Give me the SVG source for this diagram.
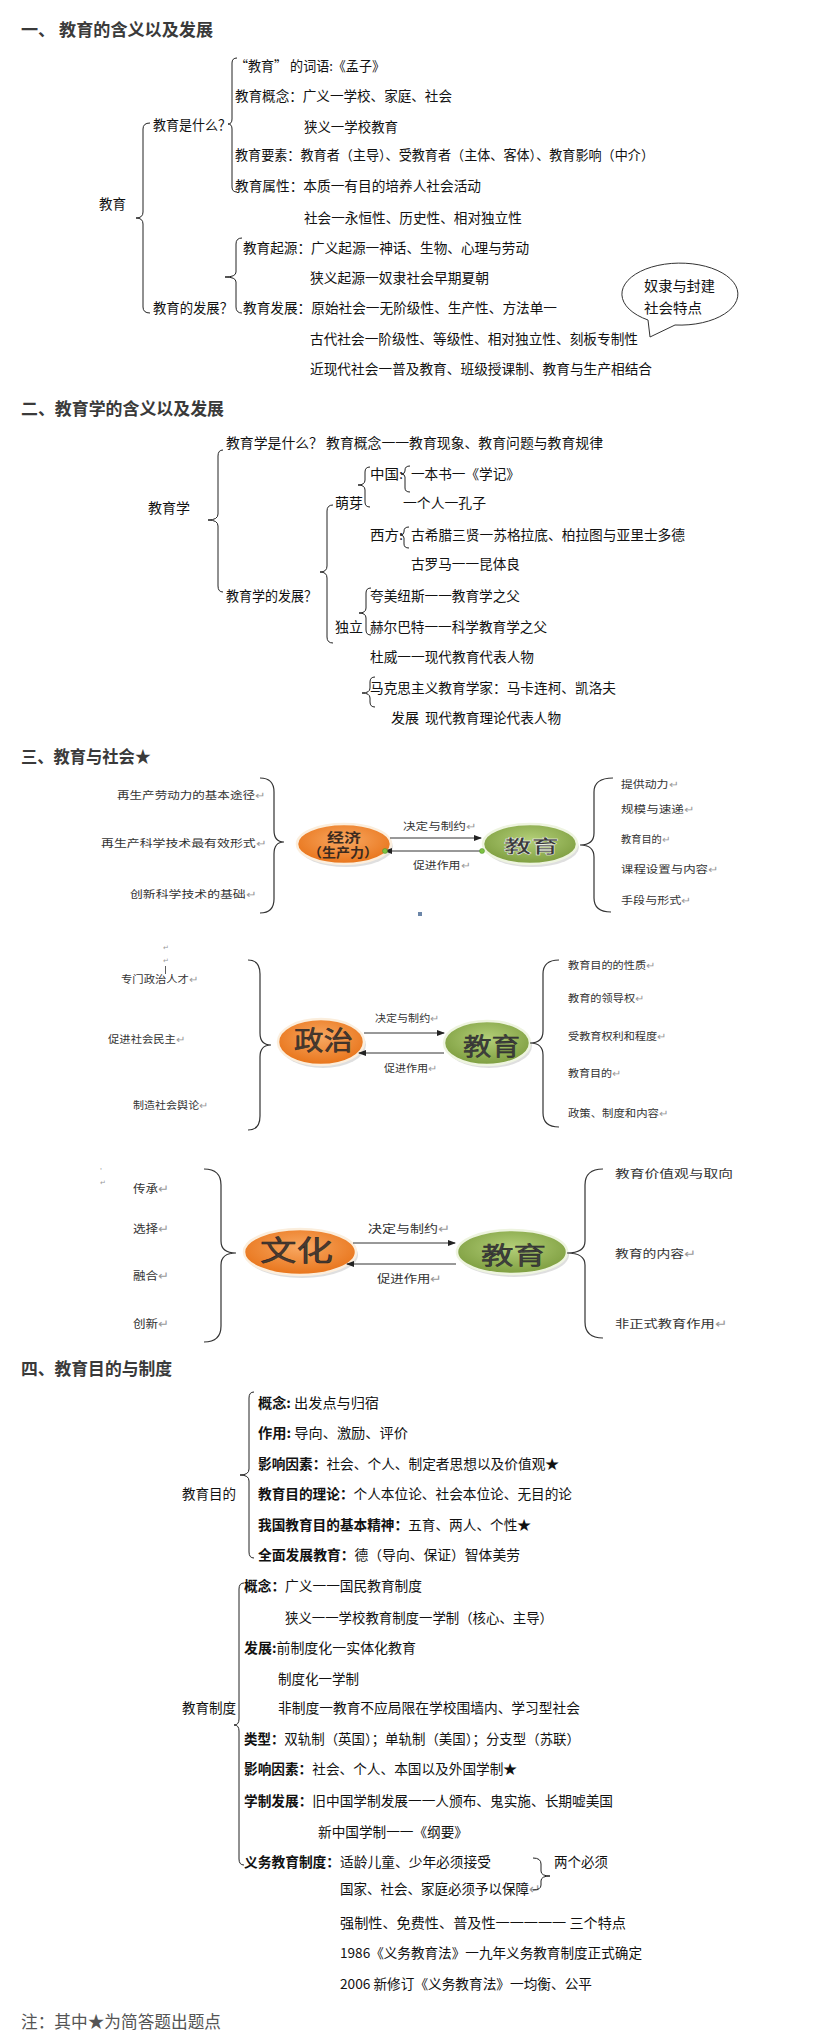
<svg xmlns="http://www.w3.org/2000/svg" width="815" height="2044" viewBox="0 0 815 2044">
<style>
text{font-family:"Noto Sans CJK SC","Noto Sans",sans-serif;dominant-baseline:central;fill:#111;font-size:13.5px}
.h{font-size:17px;font-weight:bold;fill:#3a3a3a}
.s{font-size:10px;fill:#333}
.m{font-size:11.5px;fill:#333}
.b{font-weight:bold}
.r{fill:#999}
.br{fill:none;stroke:#222;stroke-width:1}
.bb{fill:none;stroke:#333;stroke-width:1.2}
.ar{stroke:#333;stroke-width:1;fill:none}
.et{fill:#3a3a3a;stroke:#fff;stroke-width:0.4;font-weight:bold}
.bub{fill:#fff;stroke:#333;stroke-width:1}
</style>
<defs>
<marker id="ah" markerWidth="8" markerHeight="6" refX="7" refY="3" orient="auto" markerUnits="userSpaceOnUse"><path d="M0,0 L8,3 L0,6 Z" fill="#222"/></marker>
<radialGradient id="gO" cx="50%" cy="40%" r="60%"><stop offset="0" stop-color="#F8A862"/><stop offset="1" stop-color="#E8741A"/></radialGradient>
<radialGradient id="gG" cx="50%" cy="40%" r="60%"><stop offset="0" stop-color="#B3CF78"/><stop offset="1" stop-color="#7E9E40"/></radialGradient>
</defs>
<rect width="815" height="2044" fill="#fff"/>

<!-- Section 1 -->
<g id="sec1">
<text class="h" x="21" y="28" textLength="192" lengthAdjust="spacingAndGlyphs">一、 教育的含义以及发展</text>
<g id="n-jiaoyu"><text x="99" y="203" textLength="27" lengthAdjust="spacingAndGlyphs">教育</text></g>
<g id="n-shishenme"><text x="153" y="124" textLength="78" lengthAdjust="spacingAndGlyphs">教育是什么？</text></g>
<g id="n-ciyu"><text x="235" y="65" textLength="150" lengthAdjust="spacingAndGlyphs">“教育” 的词语:《孟子》</text></g>
<g id="n-gainian"><text x="235" y="95" textLength="217" lengthAdjust="spacingAndGlyphs">教育概念：广义一学校、家庭、社会</text>
<text x="304" y="126" textLength="94" lengthAdjust="spacingAndGlyphs">狭义一学校教育</text></g>
<g id="n-yaosu"><text x="235" y="154" textLength="419" lengthAdjust="spacingAndGlyphs">教育要素：教育者（主导）、受教育者（主体、客体）、教育影响（中介）</text></g>
<g id="n-shuxing"><text x="235" y="185" textLength="246" lengthAdjust="spacingAndGlyphs">教育属性：本质一有目的培养人社会活动</text>
<text x="304" y="217" textLength="218" lengthAdjust="spacingAndGlyphs">社会一永恒性、历史性、相对独立性</text></g>
<g id="n-fazhanq"><text x="153" y="307" textLength="80" lengthAdjust="spacingAndGlyphs">教育的发展？</text></g>
<g id="n-qiyuan"><text x="243" y="247" textLength="286" lengthAdjust="spacingAndGlyphs">教育起源：广义起源一神话、生物、心理与劳动</text>
<text x="310" y="277" textLength="179" lengthAdjust="spacingAndGlyphs">狭义起源一奴隶社会早期夏朝</text></g>
<g id="n-fazhan"><text x="243" y="307" textLength="314" lengthAdjust="spacingAndGlyphs">教育发展：原始社会一无阶级性、生产性、方法单一</text>
<text x="310" y="338" textLength="328" lengthAdjust="spacingAndGlyphs">古代社会一阶级性、等级性、相对独立性、刻板专制性</text>
<text x="310" y="368" textLength="342" lengthAdjust="spacingAndGlyphs">近现代社会一普及教育、班级授课制、教育与生产相结合</text></g>
<g id="n-bubble">
<path class="bub" d="M675,325 L650,337 L648,320 A58,31 0 1 1 675,325 Z"/>
<text x="644" y="285" textLength="71" lengthAdjust="spacingAndGlyphs">奴隶与封建</text>
<text x="644" y="307" textLength="58" lengthAdjust="spacingAndGlyphs">社会特点</text>
</g>
</g>

<!-- Section 2 -->
<g id="sec2">
<text class="h" x="21" y="407" textLength="203" lengthAdjust="spacingAndGlyphs">二、教育学的含义以及发展</text>
<g id="n-jyx"><text x="148" y="507" textLength="42" lengthAdjust="spacingAndGlyphs">教育学</text></g>
<g id="n-jyxssm"><text x="226" y="442" textLength="377" lengthAdjust="spacingAndGlyphs">教育学是什么？ 教育概念一一教育现象、教育问题与教育规律</text></g>
<g id="n-jyxfz"><text x="226" y="595" textLength="91" lengthAdjust="spacingAndGlyphs">教育学的发展？</text></g>
<g id="n-mengya"><text x="335" y="502" textLength="28" lengthAdjust="spacingAndGlyphs">萌芽</text></g>
<g id="n-zhongguo"><text x="370" y="473" textLength="33" lengthAdjust="spacingAndGlyphs">中国:</text>
<text x="411" y="473" textLength="109" lengthAdjust="spacingAndGlyphs">一本书一《学记》</text>
<text x="403" y="502" textLength="83" lengthAdjust="spacingAndGlyphs">一个人一孔子</text></g>
<g id="n-xifang"><text x="370" y="534" textLength="33" lengthAdjust="spacingAndGlyphs">西方:</text>
<text x="411" y="534" textLength="274" lengthAdjust="spacingAndGlyphs">古希腊三贤一苏格拉底、柏拉图与亚里士多德</text>
<text x="411" y="563" textLength="109" lengthAdjust="spacingAndGlyphs">古罗马一一昆体良</text></g>
<g id="n-duli"><text x="335" y="626" textLength="28" lengthAdjust="spacingAndGlyphs">独立</text>
<text x="370" y="595" textLength="150" lengthAdjust="spacingAndGlyphs">夸美纽斯一一教育学之父</text>
<text x="370" y="626" textLength="177" lengthAdjust="spacingAndGlyphs">赫尔巴特一一科学教育学之父</text></g>
<g id="n-duwei"><text x="370" y="656" textLength="164" lengthAdjust="spacingAndGlyphs">杜威一一现代教育代表人物</text></g>
<g id="n-makesi"><text x="370" y="687" textLength="246" lengthAdjust="spacingAndGlyphs">马克思主义教育学家：马卡连柯、凯洛夫</text>
<text x="391" y="717" textLength="28" lengthAdjust="spacingAndGlyphs">发展</text>
<text x="425" y="717" textLength="136" lengthAdjust="spacingAndGlyphs">现代教育理论代表人物</text></g>
</g>

<!-- Section 3 -->
<g id="sec3">
<text class="h" x="21" y="755" textLength="130" lengthAdjust="spacingAndGlyphs">三、教育与社会★</text>

<g id="n-jingji">
<ellipse cx="346" cy="847" rx="47" ry="20" fill="#c9c9c9" opacity="0.6"/>
<ellipse cx="344" cy="844" rx="47" ry="20" fill="url(#gO)" stroke="#fbeedd" stroke-width="2.5"/>
<text class="b" x="327" y="836" textLength="34" lengthAdjust="spacingAndGlyphs" style="font-size:13px;fill:#3b2a1e">经济</text>
<text class="b" x="308" y="851" textLength="70" lengthAdjust="spacingAndGlyphs" style="font-size:13px;fill:#3b2a1e">（生产力）</text>
</g>
<g id="n-jiaoyu1">
<ellipse cx="532" cy="847" rx="47" ry="20" fill="#c9c9c9" opacity="0.6"/>
<ellipse cx="530" cy="844" rx="47" ry="20" fill="url(#gG)" stroke="#eef4e0" stroke-width="2.5"/>
<text class="et" x="504" y="845" textLength="55" lengthAdjust="spacingAndGlyphs" style="font-size:18px">教育</text>
</g>
<g id="n-econ-left" class="s">
<text class="s" x="117" y="794" textLength="148" lengthAdjust="spacingAndGlyphs">再生产劳动力的基本途径<tspan class="r">↵</tspan></text>
<text class="s" x="101" y="842" textLength="165" lengthAdjust="spacingAndGlyphs">再生产科学技术最有效形式<tspan class="r">↵</tspan></text>
<text class="s" x="130" y="893" textLength="126" lengthAdjust="spacingAndGlyphs">创新科学技术的基础<tspan class="r">↵</tspan></text>
</g>
<g id="n-econ-right">
<text class="s" x="621" y="783" textLength="57" lengthAdjust="spacingAndGlyphs">提供动力<tspan class="r">↵</tspan></text>
<text class="s" x="621" y="808" textLength="73" lengthAdjust="spacingAndGlyphs">规模与速递<tspan class="r">↵</tspan></text>
<text class="s" x="621" y="838" textLength="49" lengthAdjust="spacingAndGlyphs">教育目的<tspan class="r">↵</tspan></text>
<text class="s" x="621" y="868" textLength="97" lengthAdjust="spacingAndGlyphs">课程设置与内容<tspan class="r">↵</tspan></text>
<text class="s" x="621" y="899" textLength="70" lengthAdjust="spacingAndGlyphs">手段与形式<tspan class="r">↵</tspan></text>
</g>
<g id="n-econ-labels">
<text class="s" x="403" y="825" textLength="73" lengthAdjust="spacingAndGlyphs">决定与制约<tspan class="r">↵</tspan></text>
<text class="s" x="413" y="864" textLength="57" lengthAdjust="spacingAndGlyphs">促进作用<tspan class="r">↵</tspan></text>
</g>
<rect x="418" y="912" width="4" height="4" fill="#6b86a8"/>

<g id="n-zhengzhi">
<ellipse cx="323" cy="1045" rx="43" ry="23" fill="#c9c9c9" opacity="0.6"/>
<ellipse cx="321" cy="1042" rx="43" ry="23" fill="url(#gO)" stroke="#fbeedd" stroke-width="2.5"/>
<text x="294" y="1038" textLength="59" lengthAdjust="spacingAndGlyphs" style="font-size:26px;fill:#4a3a30;stroke:#222;stroke-width:0.5">政治</text>
</g>
<g id="n-jiaoyu2">
<ellipse cx="489" cy="1046" rx="43" ry="22" fill="#c9c9c9" opacity="0.6"/>
<ellipse cx="487" cy="1043" rx="43" ry="22" fill="url(#gG)" stroke="#eef4e0" stroke-width="2.5"/>
<text x="463" y="1044" textLength="57" lengthAdjust="spacingAndGlyphs" style="font-size:24px;fill:#3f3f3f;stroke:#222;stroke-width:0.4">教育</text>
</g>
<g id="n-pol-left">
<text class="r" x="163" y="947" style="font-size:7px">↵</text>
<text class="r" x="163" y="960" style="font-size:7px">↵</text>
<line x1="165.5" y1="966" x2="165.5" y2="974" stroke="#333" stroke-width="0.8"/>
<text class="s" x="121" y="978" textLength="77" lengthAdjust="spacingAndGlyphs">专门政治人才<tspan class="r">↵</tspan></text>
<text class="s" x="108" y="1038" textLength="77" lengthAdjust="spacingAndGlyphs">促进社会民主<tspan class="r">↵</tspan></text>
<text class="s" x="133" y="1104" textLength="75" lengthAdjust="spacingAndGlyphs">制造社会舆论<tspan class="r">↵</tspan></text>
</g>
<g id="n-pol-right">
<text class="s" x="568" y="964" textLength="87" lengthAdjust="spacingAndGlyphs">教育目的的性质<tspan class="r">↵</tspan></text>
<text class="s" x="568" y="997" textLength="76" lengthAdjust="spacingAndGlyphs">教育的领导权<tspan class="r">↵</tspan></text>
<text class="s" x="568" y="1035" textLength="98" lengthAdjust="spacingAndGlyphs">受教育权利和程度<tspan class="r">↵</tspan></text>
<text class="s" x="568" y="1072" textLength="53" lengthAdjust="spacingAndGlyphs">教育目的<tspan class="r">↵</tspan></text>
<text class="s" x="568" y="1112" textLength="100" lengthAdjust="spacingAndGlyphs">政策、制度和内容<tspan class="r">↵</tspan></text>
</g>
<g id="n-pol-labels">
<text class="s" x="375" y="1017" textLength="64" lengthAdjust="spacingAndGlyphs">决定与制约<tspan class="r">↵</tspan></text>
<text class="s" x="384" y="1067" textLength="53" lengthAdjust="spacingAndGlyphs">促进作用<tspan class="r">↵</tspan></text>
</g>

<g id="n-wenhua">
<ellipse cx="302" cy="1255" rx="56" ry="23" fill="#c9c9c9" opacity="0.6"/>
<ellipse cx="300" cy="1252" rx="56" ry="23" fill="url(#gO)" stroke="#fbeedd" stroke-width="2.5"/>
<text x="260" y="1249" textLength="73" lengthAdjust="spacingAndGlyphs" style="font-size:28px;fill:#4a3a30;stroke:#222;stroke-width:0.5">文化</text>
</g>
<g id="n-jiaoyu3">
<ellipse cx="514" cy="1255" rx="55" ry="22" fill="#c9c9c9" opacity="0.6"/>
<ellipse cx="512" cy="1252" rx="55" ry="22" fill="url(#gG)" stroke="#eef4e0" stroke-width="2.5"/>
<text x="481" y="1253" textLength="65" lengthAdjust="spacingAndGlyphs" style="font-size:24px;fill:#3f3f3f;stroke:#222;stroke-width:0.4">教育</text>
</g>
<g id="n-cul-left">
<text class="r" x="100" y="1170" style="font-size:7px">'</text>
<text class="r" x="100" y="1182" style="font-size:7px">↵</text>
<text class="m" x="133" y="1188" textLength="36" lengthAdjust="spacingAndGlyphs">传承<tspan class="r">↵</tspan></text>
<text class="m" x="133" y="1228" textLength="36" lengthAdjust="spacingAndGlyphs">选择<tspan class="r">↵</tspan></text>
<text class="m" x="133" y="1275" textLength="36" lengthAdjust="spacingAndGlyphs">融合<tspan class="r">↵</tspan></text>
<text class="m" x="133" y="1323" textLength="36" lengthAdjust="spacingAndGlyphs">创新<tspan class="r">↵</tspan></text>
</g>
<g id="n-cul-right">
<text class="m" x="615" y="1173" textLength="118" lengthAdjust="spacingAndGlyphs">教育价值观与取向</text>
<text class="m" x="615" y="1253" textLength="81" lengthAdjust="spacingAndGlyphs">教育的内容<tspan class="r">↵</tspan></text>
<text class="m" x="615" y="1323" textLength="112" lengthAdjust="spacingAndGlyphs">非正式教育作用<tspan class="r">↵</tspan></text>
</g>
<g id="n-cul-labels">
<text class="m" x="368" y="1228" textLength="82" lengthAdjust="spacingAndGlyphs">决定与制约<tspan class="r">↵</tspan></text>
<text class="m" x="377" y="1278" textLength="65" lengthAdjust="spacingAndGlyphs">促进作用<tspan class="r">↵</tspan></text>
</g>
</g>

<!-- Section 4 -->
<g id="sec4">
<text class="h" x="21" y="1367" textLength="151" lengthAdjust="spacingAndGlyphs">四、教育目的与制度</text>
<g id="n-mudi"><text x="182" y="1493" textLength="54" lengthAdjust="spacingAndGlyphs">教育目的</text></g>
<g id="n-mudi-items">
<text x="258" y="1402" textLength="121" lengthAdjust="spacingAndGlyphs"><tspan class="b">概念:</tspan> 出发点与归宿</text>
<text x="258" y="1432" textLength="150" lengthAdjust="spacingAndGlyphs"><tspan class="b">作用:</tspan> 导向、激励、评价</text>
<text x="258" y="1463" textLength="301" lengthAdjust="spacingAndGlyphs"><tspan class="b">影响因素：</tspan>社会、个人、制定者思想以及价值观★</text>
<text x="258" y="1493" textLength="314" lengthAdjust="spacingAndGlyphs"><tspan class="b">教育目的理论：</tspan>个人本位论、社会本位论、无目的论</text>
<text x="258" y="1524" textLength="273" lengthAdjust="spacingAndGlyphs"><tspan class="b">我国教育目的基本精神：</tspan>五育、两人、个性★</text>
<text x="258" y="1554" textLength="262" lengthAdjust="spacingAndGlyphs"><tspan class="b">全面发展教育：</tspan>德（导向、保证）智体美劳</text>
</g>
<g id="n-zhidu"><text x="182" y="1707" textLength="54" lengthAdjust="spacingAndGlyphs">教育制度</text></g>
<g id="n-zhidu-items">
<text x="244" y="1585" textLength="178" lengthAdjust="spacingAndGlyphs"><tspan class="b">概念：</tspan>广义一一国民教育制度</text>
<text x="285" y="1617" textLength="268" lengthAdjust="spacingAndGlyphs">狭义一一学校教育制度一学制（核心、主导）</text>
<text x="244" y="1647" textLength="172" lengthAdjust="spacingAndGlyphs"><tspan class="b">发展:</tspan>前制度化一实体化教育</text>
<text x="278" y="1678" textLength="81" lengthAdjust="spacingAndGlyphs">制度化一学制</text>
<text x="278" y="1707" textLength="302" lengthAdjust="spacingAndGlyphs">非制度一教育不应局限在学校围墙内、学习型社会</text>
<text x="244" y="1738" textLength="336" lengthAdjust="spacingAndGlyphs"><tspan class="b">类型：</tspan>双轨制（英国）；单轨制（美国）；分支型（苏联）</text>
<text x="244" y="1768" textLength="273" lengthAdjust="spacingAndGlyphs"><tspan class="b">影响因素：</tspan>社会、个人、本国以及外国学制★</text>
<text x="244" y="1800" textLength="369" lengthAdjust="spacingAndGlyphs"><tspan class="b">学制发展：</tspan>旧中国学制发展一一人颁布、鬼实施、长期嘘美国</text>
<text x="318" y="1831" textLength="150" lengthAdjust="spacingAndGlyphs">新中国学制一一《纲要》</text>
<text x="244" y="1861" textLength="247" lengthAdjust="spacingAndGlyphs"><tspan class="b">义务教育制度：</tspan>适龄儿童、少年必须接受</text>
<text x="340" y="1888" textLength="201" lengthAdjust="spacingAndGlyphs">国家、社会、家庭必须予以保障<tspan class="r">↵</tspan></text>
<text x="340" y="1922" textLength="286" lengthAdjust="spacingAndGlyphs">强制性、免费性、普及性一一一一一  三个特点</text>
<text x="340" y="1952" textLength="302" lengthAdjust="spacingAndGlyphs">1986《义务教育法》一九年义务教育制度正式确定</text>
<text x="340" y="1983" textLength="252" lengthAdjust="spacingAndGlyphs">2006 新修订《义务教育法》一均衡、公平</text>
</g>
<g id="n-liangge"><text x="554" y="1861" textLength="54" lengthAdjust="spacingAndGlyphs">两个必须</text></g>
<text x="21" y="2020" textLength="200" lengthAdjust="spacingAndGlyphs" style="font-size:17px;fill:#555">注：其中★为简答题出题点</text>
</g>

<!-- Connectors -->
<g id="connectors">
<path class="br" d="M150,123 Q143,123 143,129 L143,212 Q143,218 136,218 Q143,218 143,224 L143,307 Q143,313 150,313"/>
<path class="br" d="M237,58 Q232,58 232,63 L232,119 Q232,124 228,124 Q232,124 232,129 L232,187 Q232,192 237,192"/>
<path class="br" d="M242,238 Q236,238 236,244 L236,272 Q236,277 225,277 Q236,277 236,282 L236,307 Q236,313 242,313"/>

<path class="br" d="M223,450 Q218,450 218,456 L218,514 Q218,520 208,520 Q218,520 218,526 L218,586 Q218,592 223,592"/>
<path class="br" d="M370,467 Q365,467 365,472 L365,480 Q365,485 358,485 Q365,485 365,490 L365,502 Q365,507 370,507"/>
<path class="br" d="M410,466 Q405,466 405,470 L405,471 Q405,474 401,474 Q405,474 405,477 L405,488 Q405,492 410,492"/>
<path class="br" d="M409,527 Q404,527 404,531 L404,532 Q404,535 400,535 Q404,535 404,538 L404,544 Q404,548 409,548"/>
<path class="br" d="M333,505 Q327,505 327,511 L327,566 Q327,572 320,572 Q327,572 327,578 L327,637 Q327,643 333,643"/>
<path class="br" d="M371,588 Q366,588 366,593 L366,608 Q366,613 359,613 Q366,613 366,618 L366,630 Q366,635 371,635"/>
<path class="br" d="M375,677 Q370,677 370,682 L370,688 Q370,693 362,693 Q370,693 370,698 L370,702 Q370,707 375,707"/>

<path class="bb" d="M260,778 Q274,778 274,792 L274,830 Q274,842 284,842 Q274,842 274,854 L274,899 Q274,913 260,913"/>
<path class="bb" d="M613,778 Q594,778 594,792 L594,833 Q594,845 580,845 Q594,845 594,857 L594,898 Q594,912 611,912"/>
<line class="ar" x1="390" y1="838" x2="481" y2="838" marker-end="url(#ah)"/>
<line class="ar" x1="481" y1="851" x2="385" y2="851" marker-end="url(#ah)"/>
<circle cx="385" cy="851" r="2.5" fill="#7dc242" stroke="#4a8a2a" stroke-width="0.5"/>
<circle cx="482" cy="851" r="2.5" fill="#7dc242" stroke="#4a8a2a" stroke-width="0.5"/>

<path class="bb" d="M248,960 Q260,960 260,974 L260,1033 Q260,1045 271,1045 Q260,1045 260,1057 L260,1116 Q260,1130 248,1130"/>
<path class="bb" d="M559,960 Q543,960 543,974 L543,1031 Q543,1043 530,1043 Q543,1043 543,1055 L543,1113 Q543,1127 559,1127"/>
<line class="ar" x1="364" y1="1033" x2="444" y2="1033" marker-end="url(#ah)"/>
<line class="ar" x1="444" y1="1053" x2="359" y2="1053" marker-end="url(#ah)"/>

<path class="bb" d="M204,1169 Q221,1169 221,1185 L221,1241 Q221,1253 236,1253 Q221,1253 221,1265 L221,1326 Q221,1342 204,1342"/>
<path class="bb" d="M603,1169 Q585,1169 585,1185 L585,1241 Q585,1253 567,1253 Q585,1253 585,1265 L585,1322 Q585,1338 603,1338"/>
<line class="ar" x1="353" y1="1243" x2="455" y2="1243" marker-end="url(#ah)"/>
<line class="ar" x1="456" y1="1264" x2="347" y2="1264" marker-end="url(#ah)"/>

<path class="br" d="M254,1392 Q249,1392 249,1398 L249,1469 Q249,1475 240,1475 Q249,1475 249,1481 L249,1552 Q249,1558 254,1558"/>
<path class="br" d="M244,1583 Q239,1583 239,1589 L239,1719 Q239,1725 234,1725 Q239,1725 239,1731 L239,1859 Q239,1865 244,1865"/>
<path class="br" d="M533,1858 Q541,1858 541,1864 L541,1871 Q541,1876 550,1876 Q541,1876 541,1881 L541,1885 Q541,1890 533,1890"/>
</g>
</svg>
